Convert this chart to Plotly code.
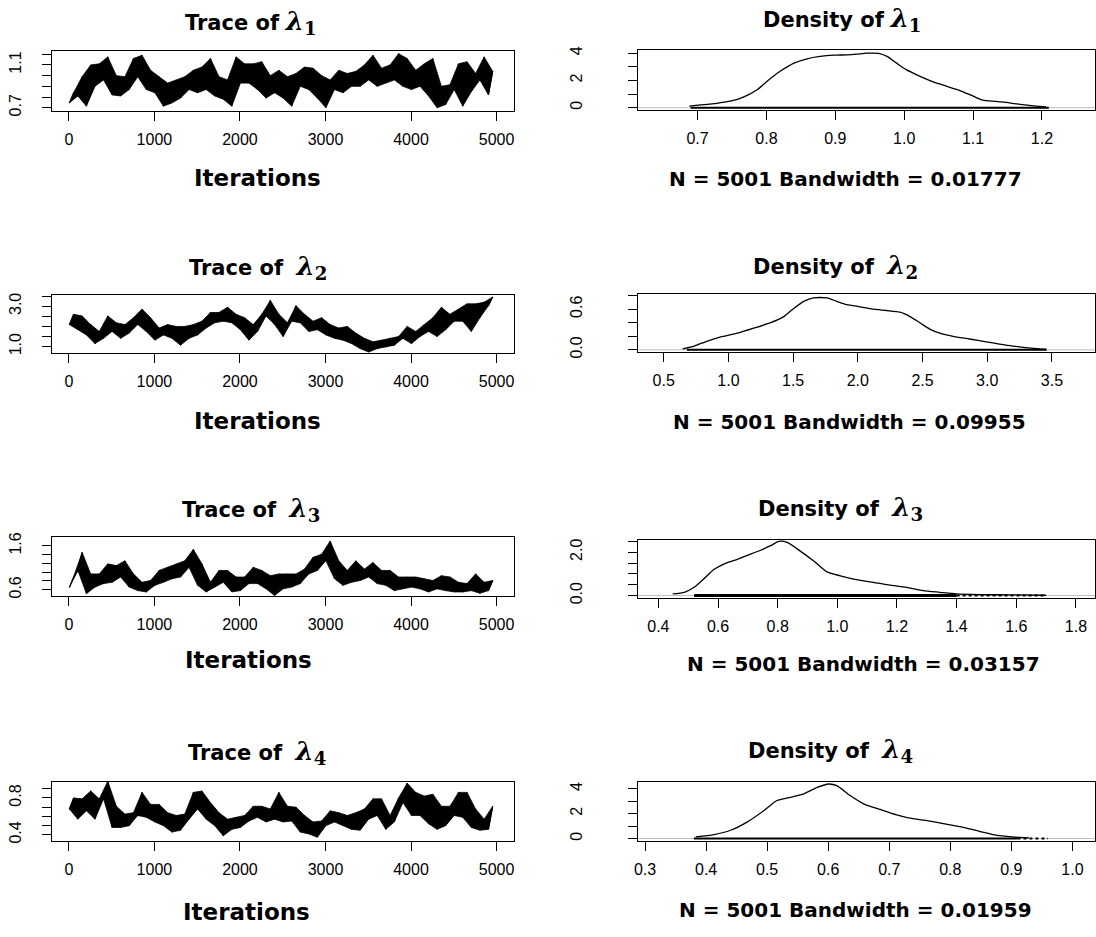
import plotly.graph_objects as go

FIG_W, FIG_H = 1096, 937

# ---------------------------------------------------------------
# MCMC trace envelopes: lowest / highest draw in each block of
# 100 iterations (5001 draws per chain)
# ---------------------------------------------------------------
block_start = list(range(0, 5000, 100))

lam1_lo = [0.745, 0.81, 0.715, 0.90, 0.96, 0.82, 0.81, 0.87, 0.99, 0.87,
           0.84, 0.715, 0.745, 0.79, 0.87, 0.84, 0.87, 0.81, 0.78, 0.715,
           0.93, 0.93, 0.87, 0.79, 0.84, 0.79, 0.715, 0.90, 0.87, 0.79,
           0.70, 0.87, 0.84, 0.90, 0.90, 0.96, 0.90, 0.93, 0.96, 0.90,
           0.87, 0.90, 0.81, 0.70, 0.73, 0.87, 0.715, 0.85, 0.96, 0.82]
lam1_hi = [0.84, 0.99, 1.10, 1.11, 1.175, 1.00, 0.99, 1.16, 1.19, 1.05,
           0.99, 0.93, 0.96, 0.99, 1.05, 1.08, 1.16, 0.99, 0.96, 1.175,
           1.11, 1.11, 1.13, 1.00, 1.05, 0.99, 1.02, 1.08, 1.07, 1.00,
           0.96, 1.05, 1.02, 1.04, 1.10, 1.19, 1.07, 1.10, 1.205, 1.16,
           1.05, 1.11, 1.16, 0.90, 0.915, 1.11, 1.13, 1.02, 1.175, 1.04]

lam2_lo = [2.09, 1.84, 1.58, 1.15, 1.41, 1.75, 1.41, 1.67, 2.09, 1.75,
           1.32, 1.58, 1.41, 1.07, 1.41, 1.58, 1.92, 2.18, 2.26, 2.18,
           1.84, 1.32, 1.75, 2.52, 2.09, 1.50, 2.26, 2.18, 1.75, 1.84,
           1.58, 1.41, 1.32, 1.15, 0.90, 0.73, 0.90, 0.98, 1.07, 1.41,
           1.15, 1.50, 1.75, 1.50, 1.84, 2.26, 2.26, 1.75, 2.43, 3.03]
lam2_hi = [2.60, 2.52, 2.09, 1.75, 2.52, 2.18, 2.09, 2.43, 2.86, 2.43,
           1.92, 2.09, 2.00, 2.00, 2.09, 2.26, 2.69, 2.69, 2.95, 2.60,
           2.43, 2.09, 2.60, 3.29, 2.60, 2.18, 3.03, 2.60, 2.26, 2.43,
           2.09, 1.92, 2.00, 1.67, 1.41, 1.24, 1.32, 1.41, 1.50, 2.00,
           1.75, 2.09, 2.43, 2.95, 2.60, 2.86, 3.12, 3.12, 3.20, 3.46]

lam3_lo = [0.65, 1.04, 0.51, 0.66, 0.74, 0.77, 0.89, 0.66, 0.58, 0.55,
           0.70, 0.77, 0.85, 0.89, 1.11, 0.70, 0.55, 0.66, 0.77, 0.55,
           0.58, 0.74, 0.74, 0.62, 0.47, 0.62, 0.66, 0.74, 0.96, 1.04,
           1.26, 0.85, 0.70, 0.77, 0.81, 0.89, 0.74, 0.70, 0.58, 0.62,
           0.66, 0.62, 0.55, 0.62, 0.58, 0.55, 0.55, 0.58, 0.52, 0.58]
lam3_hi = [0.89, 1.45, 0.96, 0.96, 1.19, 1.15, 1.26, 0.96, 0.77, 0.81,
           1.04, 1.11, 1.19, 1.26, 1.52, 1.19, 0.77, 1.04, 1.04, 0.89,
           0.89, 1.11, 1.04, 0.92, 0.96, 0.96, 0.96, 1.07, 1.34, 1.41,
           1.71, 1.26, 1.04, 1.26, 1.07, 1.22, 1.04, 1.04, 0.89, 0.89,
           0.89, 0.85, 0.81, 0.92, 0.89, 0.77, 0.74, 0.96, 0.77, 0.81]

lam4_lo = [0.68, 0.57, 0.66, 0.57, 0.79, 0.48, 0.48, 0.50, 0.61, 0.59,
           0.54, 0.50, 0.43, 0.45, 0.57, 0.68, 0.57, 0.50, 0.39, 0.46,
           0.48, 0.55, 0.59, 0.54, 0.57, 0.54, 0.55, 0.43, 0.41, 0.375,
           0.50, 0.54, 0.50, 0.46, 0.45, 0.57, 0.61, 0.46, 0.54, 0.75,
           0.61, 0.61, 0.52, 0.46, 0.50, 0.61, 0.59, 0.48, 0.45, 0.46]
lam4_hi = [0.80, 0.79, 0.875, 0.79, 0.98, 0.71, 0.625, 0.64, 0.86, 0.73,
           0.73, 0.64, 0.61, 0.625, 0.86, 0.875, 0.75, 0.64, 0.57, 0.59,
           0.61, 0.71, 0.71, 0.68, 0.86, 0.71, 0.70, 0.61, 0.54, 0.55,
           0.66, 0.64, 0.61, 0.64, 0.68, 0.79, 0.79, 0.61, 0.80, 0.96,
           0.86, 0.82, 0.84, 0.71, 0.71, 0.86, 0.86, 0.68, 0.57, 0.71]

# ---------------------------------------------------------------
# Kernel density estimates of each parameter
# ---------------------------------------------------------------
dens1_x = [0.688, 0.714, 0.739, 0.758, 0.772, 0.787, 0.801, 0.820, 0.840, 0.859,
           0.878, 0.898, 0.917, 0.931, 0.946, 0.963, 0.975, 0.989, 1.003, 1.023,
           1.042, 1.061, 1.081, 1.100, 1.114, 1.133, 1.153, 1.172, 1.191, 1.206]
dens1_y = [0.12, 0.24, 0.41, 0.61, 0.90, 1.33, 1.94, 2.67, 3.27, 3.59,
           3.76, 3.85, 3.88, 3.93, 4.00, 3.98, 3.76, 3.27, 2.79, 2.30,
           1.89, 1.58, 1.26, 0.85, 0.56, 0.46, 0.36, 0.22, 0.12, 0.05]

dens2_x = [0.646, 0.736, 0.838, 0.941, 1.069, 1.197, 1.326, 1.428, 1.505, 1.582,
           1.659, 1.762, 1.838, 1.915, 2.018, 2.121, 2.223, 2.326, 2.403, 2.479,
           2.556, 2.633, 2.736, 2.864, 2.992, 3.095, 3.197, 3.300, 3.403, 3.454]
dens2_y = [0.014, 0.056, 0.13, 0.19, 0.245, 0.32, 0.40, 0.49, 0.61, 0.715,
           0.767, 0.767, 0.715, 0.668, 0.635, 0.60, 0.58, 0.555, 0.49, 0.40,
           0.306, 0.245, 0.198, 0.16, 0.118, 0.085, 0.056, 0.033, 0.014, 0.009]

dens3_x = [0.448, 0.487, 0.520, 0.554, 0.587, 0.631, 0.665, 0.698, 0.743, 0.776,
           0.804, 0.832, 0.876, 0.921, 0.965, 1.010, 1.065, 1.121, 1.177, 1.232,
           1.288, 1.344, 1.399, 1.477, 1.588, 1.700]
dens3_y = [0.076, 0.15, 0.38, 0.79, 1.21, 1.52, 1.67, 1.85, 2.09, 2.30,
           2.50, 2.45, 2.05, 1.59, 1.09, 0.91, 0.73, 0.61, 0.48, 0.38,
           0.23, 0.15, 0.076, 0.045, 0.03, 0.015]

dens4_x = [0.383, 0.413, 0.440, 0.467, 0.495, 0.516, 0.538, 0.560, 0.582, 0.601,
           0.614, 0.636, 0.658, 0.685, 0.712, 0.739, 0.766, 0.793, 0.821, 0.848,
           0.875, 0.902, 0.929]
dens4_y = [0.13, 0.32, 0.67, 1.33, 2.27, 3.07, 3.33, 3.60, 4.13, 4.40,
           4.27, 3.47, 2.80, 2.35, 1.92, 1.60, 1.41, 1.17, 0.91, 0.59,
           0.27, 0.13, 0.05]

# extent of the observed draws shown as a rug along y = 0
rug_dense = [(0.69, 1.21), (0.68, 3.46), (0.52, 1.40), (0.38, 0.91)]
rug_sparse = [None, None, (1.40, 1.70), (0.91, 0.96)]

n_draws = 5001
bandwidths = ["0.01777", "0.09955", "0.03157", "0.01959"]
iter_ticks = [0, 1000, 2000, 3000, 4000, 5000]

# labelled ticks and the remaining (unlabelled) tick marks
trace_ylab = [[0.7, 1.1], [1.0, 3.0], [0.6, 1.6], [0.4, 0.8]]
trace_ymarks = [[0.8, 0.9, 1.0, 1.2], [1.5, 2.0, 2.5, 3.5],
                [0.8, 1.0, 1.2, 1.4], [0.5, 0.6, 0.7, 0.9]]
dens_xticks = [[0.7, 0.8, 0.9, 1.0, 1.1, 1.2],
               [0.5, 1.0, 1.5, 2.0, 2.5, 3.0, 3.5],
               [0.4, 0.6, 0.8, 1.0, 1.2, 1.4, 1.6, 1.8],
               [0.3, 0.4, 0.5, 0.6, 0.7, 0.8, 0.9, 1.0]]
dens_ylab = [[0, 2, 4], [0.0, 0.6], [0.0, 2.0], [0, 2, 4]]
dens_ylab_fmt = ["%d", "%.1f", "%.1f", "%d"]
dens_ymarks = [[1, 3], [0.2, 0.4, 0.8], [0.5, 1.0, 1.5, 2.5], [1, 3]]

# ---------------------------------------------------------------
# axis ranges and panel placement (pixels in the 1096 x 937 page)
# ---------------------------------------------------------------
trace_xrange = [-200, 5200]
trace_yrange = [[0.672, 1.226], [0.69, 3.58], [0.458, 1.81], [0.333, 0.975]]
dens_xrange = [[0.6137, 1.277], [0.302, 3.833], [0.332, 1.864], [0.2886, 1.037]]
dens_yrange = [[-0.15, 4.2], [-0.03, 0.83], [-0.11, 2.58], [-0.2, 4.58]]

trace_box_x = (48, 512)
dens_box_x = (637, 1096)
trace_box_y = [(48, 108), (294, 353), (539, 599), (787, 847)]
dens_box_y = [(47, 107), (293, 352), (542, 601), (787, 847)]

trace_title_pos = [(248, 19), (255, 267), (248, 511), (254, 757)]
iter_label_pos = [(255, 176), (255, 422), (246, 664), (244, 919)]
dens_title_pos = [(842, 16), (835, 266), (840, 510), (830, 755)]
bw_label_pos = [(845, 177), (849, 423), (863, 668), (855, 917)]

traces_lo = [lam1_lo, lam2_lo, lam3_lo, lam4_lo]
traces_hi = [lam1_hi, lam2_hi, lam3_hi, lam4_hi]
dens_x = [dens1_x, dens2_x, dens3_x, dens4_x]
dens_y = [dens1_y, dens2_y, dens3_y, dens4_y]

TICK_FONT = dict(family="Liberation Sans, Arial, sans-serif", size=16, color="black")
LABEL_FAMILY = "DejaVu Sans, sans-serif"


def px_x(v):
    return v / FIG_W


def px_y(v):
    return 1 - v / FIG_H


def lam(k):
    return ('<span style="font-family:DejaVu Serif;font-size:26px">'
            '<b><i>λ</i></b><sub><b>%d</b></sub></span>' % k)


fig = go.Figure()

base_axis = dict(showline=True, linecolor="black", linewidth=1, mirror=True,
                 ticks="outside", ticklen=9, tickwidth=1, tickcolor="black",
                 showgrid=False, zeroline=False, tickfont=TICK_FONT,
                 tickmode="array")
minor_marks = dict(ticks="outside", ticklen=9, tickwidth=1,
                   tickcolor="black", showgrid=False)

layout_axes = {}
annotations = []

for i in range(4):
    # ---------------- trace panel ----------------
    ax = i + 1
    xa, ya = "x%d" % ax, "y%d" % ax
    xs, ys = [], []
    for s, lo, hi in zip(block_start, traces_lo[i], traces_hi[i]):
        xs += [s + 5, s + 55]
        ys += [lo, hi]
    # band covering the range visited by the chain in each block
    band_x = [s + 55 for s in block_start] + [s + 5 for s in block_start][::-1]
    band_y = list(traces_hi[i]) + list(traces_lo[i])[::-1]
    fig.add_trace(go.Scatter(x=band_x, y=band_y, mode="lines", fill="toself",
                             fillcolor="black",
                             line=dict(color="black", width=0.8),
                             xaxis=xa, yaxis=ya, showlegend=False,
                             hoverinfo="skip"))
    fig.add_trace(go.Scatter(x=xs, y=ys, mode="lines",
                             line=dict(color="black", width=1.2),
                             xaxis=xa, yaxis=ya,
                             showlegend=False, hoverinfo="skip"))
    layout_axes["xaxis%d" % ax] = dict(
        base_axis, anchor=ya,
        domain=[px_x(trace_box_x[0]), px_x(trace_box_x[1])],
        range=trace_xrange, tickvals=iter_ticks,
        ticktext=[str(t) for t in iter_ticks], ticklabelstandoff=5)
    layout_axes["yaxis%d" % ax] = dict(
        base_axis, anchor=xa,
        domain=[px_y(trace_box_y[i][1]), px_y(trace_box_y[i][0])],
        range=trace_yrange[i], tickvals=trace_ylab[i],
        ticktext=["%.1f" % v for v in trace_ylab[i]],
        minor=dict(minor_marks, tickvals=trace_ymarks[i]),
        tickangle=-90, ticklabelstandoff=14)

    gap = " " if i == 0 else "\u00a0 "
    annotations.append(dict(
        text="<b>Trace of</b>" + gap + lam(i + 1), size=21,
        x=px_x(trace_title_pos[i][0]), y=px_y(trace_title_pos[i][1])))
    annotations.append(dict(
        text="<b>Iterations</b>", size=23,
        x=px_x(iter_label_pos[i][0]), y=px_y(iter_label_pos[i][1])))

    # ---------------- density panel ----------------
    ax = i + 5
    xa, ya = "x%d" % ax, "y%d" % ax
    # light reference line at zero density
    fig.add_trace(go.Scatter(x=dens_xrange[i], y=[0, 0], mode="lines",
                             line=dict(color="#bdbdbd", width=1),
                             xaxis=xa, yaxis=ya,
                             showlegend=False, hoverinfo="skip"))
    lo, hi = rug_dense[i]
    fig.add_trace(go.Scatter(x=[lo, hi], y=[0, 0], mode="lines",
                             line=dict(color="black", width=3 if i == 2 else 2),
                             xaxis=xa, yaxis=ya,
                             showlegend=False, hoverinfo="skip"))
    if rug_sparse[i] is not None:
        fig.add_trace(go.Scatter(x=list(rug_sparse[i]), y=[0, 0], mode="lines",
                                 line=dict(color="black", width=2, dash="dot"),
                                 xaxis=xa, yaxis=ya,
                                 showlegend=False, hoverinfo="skip"))
    fig.add_trace(go.Scatter(x=dens_x[i], y=dens_y[i], mode="lines",
                             line=dict(color="black", width=1.3, shape="spline",
                                       smoothing=0.6),
                             xaxis=xa, yaxis=ya,
                             showlegend=False, hoverinfo="skip"))
    layout_axes["xaxis%d" % ax] = dict(
        base_axis, anchor=ya,
        domain=[px_x(dens_box_x[0]), px_x(dens_box_x[1])],
        range=dens_xrange[i], tickvals=dens_xticks[i],
        ticktext=["%.1f" % t for t in dens_xticks[i]], ticklabelstandoff=5)
    layout_axes["yaxis%d" % ax] = dict(
        base_axis, anchor=xa,
        domain=[px_y(dens_box_y[i][1]), px_y(dens_box_y[i][0])],
        range=dens_yrange[i], tickvals=dens_ylab[i],
        ticktext=[dens_ylab_fmt[i] % v for v in dens_ylab[i]],
        minor=dict(minor_marks, tickvals=dens_ymarks[i]),
        tickangle=-90, ticklabelstandoff=40)

    annotations.append(dict(
        text="<b>Density of</b>" + gap + lam(i + 1), size=21,
        x=px_x(dens_title_pos[i][0]), y=px_y(dens_title_pos[i][1])))
    annotations.append(dict(
        text="<b>N = %d Bandwidth = %s</b>" % (n_draws, bandwidths[i]), size=20,
        x=px_x(bw_label_pos[i][0]), y=px_y(bw_label_pos[i][1])))

for a in annotations:
    size = a.pop("size")
    a.update(xref="paper", yref="paper", xanchor="center", yanchor="middle",
             showarrow=False,
             font=dict(family=LABEL_FAMILY, size=size, color="black"))

fig.update_layout(width=FIG_W, height=FIG_H,
                  margin=dict(l=0, r=0, t=0, b=0),
                  paper_bgcolor="white", plot_bgcolor="white",
                  annotations=annotations, **layout_axes)

fig.write_html("out.html", include_plotlyjs=True, full_html=True,
               config={"displayModeBar": False})
